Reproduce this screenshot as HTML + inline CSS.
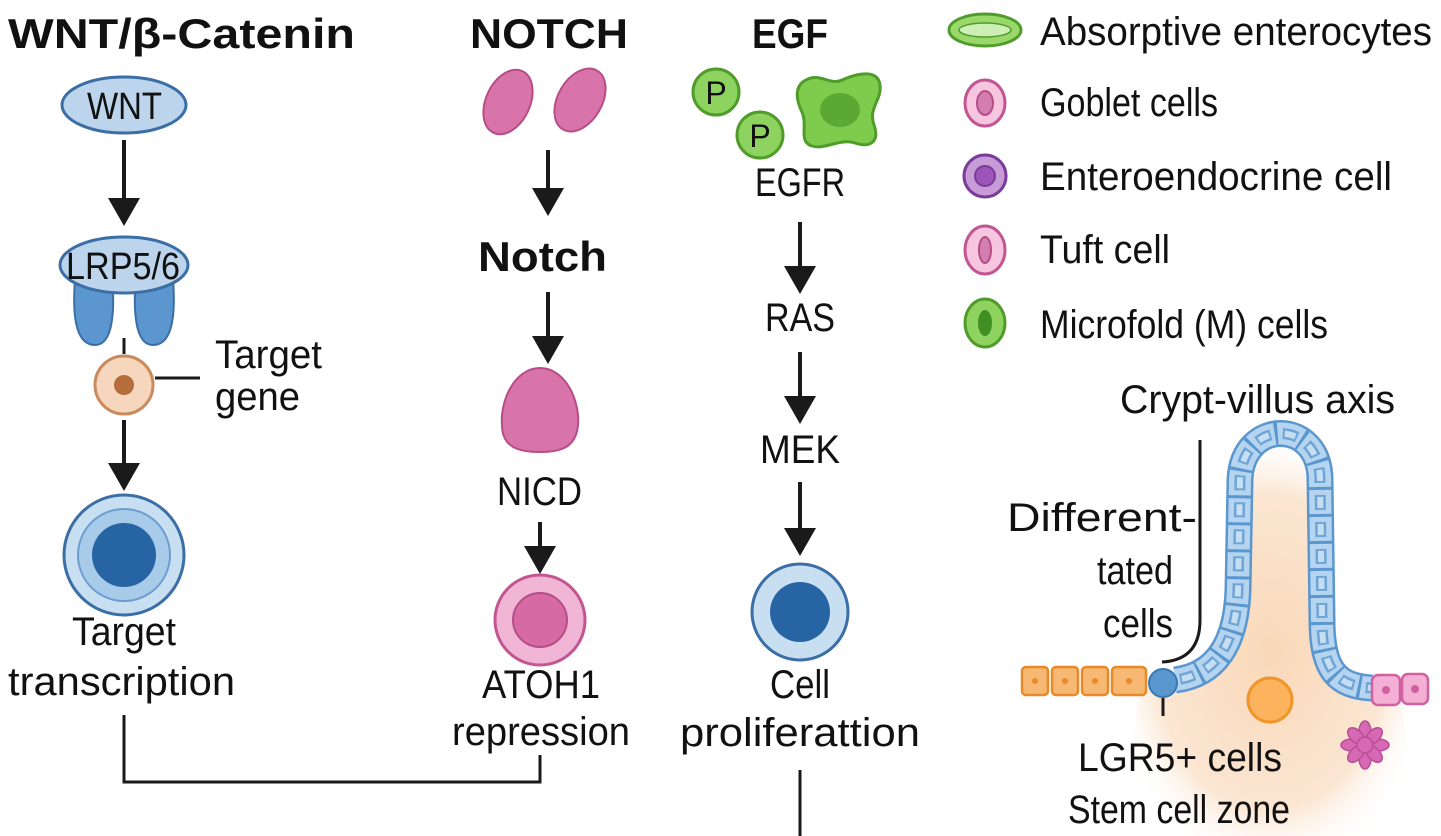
<!DOCTYPE html>
<html><head><meta charset="utf-8"><style>
html,body{margin:0;padding:0;background:#fff;}
svg{display:block;}
text{font-family:"Liberation Sans Narrow","Liberation Sans",sans-serif;fill:#111;}
.b{font-weight:bold;}
</style></head><body>
<svg width="1441" height="836" viewBox="0 0 1441 836" xmlns="http://www.w3.org/2000/svg">
<defs>
<radialGradient id="peach" cx="0.5" cy="0.55" r="0.55"><stop offset="0" stop-color="#f9d8b8"/><stop offset="0.7" stop-color="#fbe6d2"/><stop offset="1" stop-color="#fff" stop-opacity="0"/></radialGradient>
</defs>
<g stroke="#1a1a1a" stroke-width="4" fill="none">
<path d="M124,140 V200"/><path d="M124,420 V465"/>
<path d="M548,150 V190"/><path d="M548,292 V338"/><path d="M540,522 V548"/>
<path d="M800,222 V268"/><path d="M800,352 V398"/><path d="M800,482 V530"/>
</g>
<g fill="#1a1a1a">
<path d="M108,198 L140,198 L124,226 z"/><path d="M108,463 L140,463 L124,491 z"/>
<path d="M532,188 L564,188 L548,216 z"/><path d="M532,336 L564,336 L548,364 z"/><path d="M524,546 L556,546 L540,574 z"/>
<path d="M784,266 L816,266 L800,294 z"/><path d="M784,396 L816,396 L800,424 z"/><path d="M784,528 L816,528 L800,556 z"/>
</g>
<g font-size="42" lengthAdjust="spacingAndGlyphs">
<text x="8" y="48" class="b" textLength="347" lengthAdjust="spacingAndGlyphs">WNT/β-Catenin</text>
<text x="470" y="48" class="b" textLength="158" lengthAdjust="spacingAndGlyphs">NOTCH</text>
<text x="752" y="48" class="b" textLength="76" lengthAdjust="spacingAndGlyphs">EGF</text>
</g>
<!-- WNT -->
<ellipse cx="124" cy="105" rx="62" ry="28" fill="#bcd5ec" stroke="#3a6ea5" stroke-width="3"/>
<text x="87" y="119" font-size="38" textLength="75" lengthAdjust="spacingAndGlyphs">WNT</text>
<path d="M75,280 Q70,345 95,345 Q115,345 113,290 z" fill="#5c96cf" stroke="#3a6ea5" stroke-width="2"/>
<path d="M173,280 Q178,345 153,345 Q133,345 135,290 z" fill="#5c96cf" stroke="#3a6ea5" stroke-width="2"/>
<ellipse cx="124" cy="265" rx="64" ry="28" fill="#bcd5ec" stroke="#3a6ea5" stroke-width="3"/>
<text x="66" y="279" font-size="38" textLength="114" lengthAdjust="spacingAndGlyphs">LRP5/6</text>
<path d="M124,338 V354 M155,378 H200" stroke="#1a1a1a" stroke-width="3"/>
<circle cx="124" cy="385" r="29" fill="#f6d6bd" stroke="#c98a5e" stroke-width="3"/>
<circle cx="124" cy="385" r="10" fill="#b56d3b"/>
<text x="215" y="368" font-size="40" textLength="107" lengthAdjust="spacingAndGlyphs">Target</text>
<text x="215" y="410" font-size="40" textLength="85" lengthAdjust="spacingAndGlyphs">gene</text>
<circle cx="124" cy="555" r="60" fill="#c8def1" stroke="#3a6ea5" stroke-width="3"/>
<circle cx="124" cy="555" r="46" fill="#a9cbea" stroke="#6b9dd0" stroke-width="2"/>
<circle cx="124" cy="555" r="32" fill="#2764a3"/>
<text x="72" y="645" font-size="40" textLength="104" lengthAdjust="spacingAndGlyphs">Target</text>
<text x="8" y="695" font-size="40" textLength="227" lengthAdjust="spacingAndGlyphs">transcription</text>
<path d="M124,715 V782 H540 V755" stroke="#1a1a1a" stroke-width="3" fill="none"/>
<!-- NOTCH -->
<ellipse cx="508" cy="102" rx="22" ry="34" transform="rotate(25 508 102)" fill="#d874a9" stroke="#b84d86" stroke-width="2"/>
<ellipse cx="580" cy="100" rx="22" ry="34" transform="rotate(30 580 100)" fill="#d874a9" stroke="#b84d86" stroke-width="2"/>
<text x="478" y="271" font-size="42" class="b" textLength="129" lengthAdjust="spacingAndGlyphs">Notch</text>
<path d="M540,368 C565,368 580,400 578,425 C576,448 560,452 540,452 C520,452 502,448 502,425 C500,400 515,368 540,368 z" fill="#d874a9" stroke="#b84d86" stroke-width="2"/>
<text x="497" y="505" font-size="40" textLength="85" lengthAdjust="spacingAndGlyphs">NICD</text>
<circle cx="540" cy="620" r="45" fill="#f1b6d6" stroke="#c25592" stroke-width="3"/>
<circle cx="540" cy="620" r="27" fill="#d56aa5" stroke="#b84d86" stroke-width="2"/>
<text x="482" y="698" font-size="40" textLength="118" lengthAdjust="spacingAndGlyphs">ATOH1</text>
<text x="452" y="745" font-size="40" textLength="178" lengthAdjust="spacingAndGlyphs">repression</text>
<!-- EGF -->
<circle cx="716" cy="92" r="23" fill="#8ed35f" stroke="#4f9c2b" stroke-width="3"/>
<text x="716" y="104" font-size="32" text-anchor="middle">P</text>
<circle cx="760" cy="135" r="23" fill="#8ed35f" stroke="#4f9c2b" stroke-width="3"/>
<text x="760" y="147" font-size="32" text-anchor="middle">P</text>
<path d="M806,80 C820,72 830,86 842,80 C860,72 878,70 880,85 C882,100 868,108 874,125 C880,142 870,148 855,143 C840,138 825,150 812,146 C798,142 808,125 802,112 C796,100 794,86 806,80 z" fill="#7fcb4d" stroke="#4f9c2b" stroke-width="3"/>
<ellipse cx="840" cy="110" rx="20" ry="17" fill="#4f9c2b" opacity="0.75"/>
<text x="755" y="196" font-size="40" textLength="90" lengthAdjust="spacingAndGlyphs">EGFR</text>
<text x="765" y="331" font-size="40" textLength="70" lengthAdjust="spacingAndGlyphs">RAS</text>
<text x="760" y="463" font-size="40" textLength="80" lengthAdjust="spacingAndGlyphs">MEK</text>
<circle cx="800" cy="612" r="48" fill="#c8def1" stroke="#3a6ea5" stroke-width="3"/>
<circle cx="800" cy="612" r="30" fill="#2764a3"/>
<text x="770" y="698" font-size="40" textLength="60" lengthAdjust="spacingAndGlyphs">Cell</text>
<text x="680" y="746" font-size="40" textLength="240" lengthAdjust="spacingAndGlyphs">proliferattion</text>
<path d="M800,770 V836" stroke="#1a1a1a" stroke-width="3"/>
<!-- Legend -->
<ellipse cx="985" cy="30" rx="36" ry="16" fill="#9ad86c" stroke="#4f9c2b" stroke-width="3"/>
<ellipse cx="985" cy="30" rx="26" ry="7" fill="#cdeeb5" stroke="#4f9c2b" stroke-width="1.5"/>
<text x="1040" y="45" font-size="40" textLength="392" lengthAdjust="spacingAndGlyphs">Absorptive enterocytes</text>
<ellipse cx="985" cy="103" rx="20" ry="23" fill="#f6c5e0" stroke="#c25592" stroke-width="3"/>
<ellipse cx="985" cy="103" rx="8" ry="12" fill="#d27fb0" stroke="#b84d86" stroke-width="2"/>
<text x="1040" y="116" font-size="40" textLength="178" lengthAdjust="spacingAndGlyphs">Goblet cells</text>
<ellipse cx="985" cy="176" rx="21" ry="21" fill="#c79bd6" stroke="#7b3b9a" stroke-width="3"/>
<circle cx="985" cy="176" r="10" fill="#9b55b8" stroke="#7b3b9a" stroke-width="2"/>
<text x="1040" y="190" font-size="40" textLength="352" lengthAdjust="spacingAndGlyphs">Enteroendocrine cell</text>
<ellipse cx="985" cy="250" rx="20" ry="24" fill="#f6c5e0" stroke="#c25592" stroke-width="3"/>
<ellipse cx="985" cy="250" rx="6" ry="13" fill="#d27fb0" stroke="#b84d86" stroke-width="2"/>
<text x="1040" y="263" font-size="40" textLength="130" lengthAdjust="spacingAndGlyphs">Tuft cell</text>
<ellipse cx="985" cy="323" rx="20" ry="24" fill="#8ed35f" stroke="#4f9c2b" stroke-width="3"/>
<ellipse cx="985" cy="323" rx="7" ry="13" fill="#3f8f22"/>
<text x="1040" y="338" font-size="40" textLength="288" lengthAdjust="spacingAndGlyphs">Microfold (M) cells</text>
<!-- Villus -->
<path d="M1140,690 C1200,680 1236,650 1238,590 L1240,480 C1242,410 1320,410 1320,480 L1322,620 C1322,680 1350,690 1400,692 L1420,836 L1120,836 z" fill="url(#peach)"/>
<text x="1120" y="413" font-size="40" textLength="275" lengthAdjust="spacingAndGlyphs">Crypt-villus axis</text>
<path d="M1200,440 V620 Q1200,660 1162,662" stroke="#1a1a1a" stroke-width="3" fill="none"/>
<text x="1007" y="531" font-size="40" textLength="190" lengthAdjust="spacingAndGlyphs">Different-</text>
<text x="1097" y="584" font-size="40" textLength="76" lengthAdjust="spacingAndGlyphs">tated</text>
<text x="1103" y="637" font-size="40" textLength="70" lengthAdjust="spacingAndGlyphs">cells</text>
<g fill="#f7b873" stroke="#e88a2a" stroke-width="2.5">
<rect x="1022" y="667" width="26" height="28" rx="4"/><rect x="1052" y="667" width="26" height="28" rx="4"/>
<rect x="1082" y="667" width="26" height="28" rx="4"/><rect x="1112" y="667" width="34" height="28" rx="4"/>
</g>
<g fill="#e88a2a"><circle cx="1035" cy="681" r="3"/><circle cx="1065" cy="681" r="3"/><circle cx="1095" cy="681" r="3"/><circle cx="1129" cy="681" r="3"/></g>
<g fill="none">
<path id="vp" d="M1175,680 C1215,675 1236,645 1238,590 L1240,480 C1242,418 1320,418 1320,480 L1322,620 C1322,672 1338,686 1372,688" stroke="#5b97cf" stroke-width="27"/>
<path d="M1175,680 C1215,675 1236,645 1238,590 L1240,480 C1242,418 1320,418 1320,480 L1322,620 C1322,672 1338,686 1372,688" stroke="#b5d4ef" stroke-width="22" stroke-dasharray="24 3"/>
<path d="M1175,680 C1215,675 1236,645 1238,590 L1240,480 C1242,418 1320,418 1320,480 L1322,620 C1322,672 1338,686 1372,688" stroke="#6ea5d6" stroke-width="11" stroke-dasharray="15 12" stroke-dashoffset="-5"/>
<path d="M1175,680 C1215,675 1236,645 1238,590 L1240,480 C1242,418 1320,418 1320,480 L1322,620 C1322,672 1338,686 1372,688" stroke="#c6def2" stroke-width="6" stroke-dasharray="11 16" stroke-dashoffset="-7"/>
</g>
<circle cx="1163" cy="683" r="14" fill="#5b97cf" stroke="#3a78b5" stroke-width="2"/>
<path d="M1163,698 V716" stroke="#1a1a1a" stroke-width="3"/>
<g fill="#f3b0d4" stroke="#d060a0" stroke-width="2.5">
<rect x="1372" y="675" width="28" height="30" rx="6"/><rect x="1402" y="674" width="26" height="30" rx="6"/>
</g>
<g fill="#d060a0"><circle cx="1386" cy="690" r="4"/><circle cx="1415" cy="689" r="4"/></g>
<circle cx="1270" cy="700" r="22" fill="#fbb35e" stroke="#f0952a" stroke-width="3"/>
<g fill="#d768b4" stroke="#b84d96" stroke-width="1.5">
<ellipse cx="1365" cy="732" rx="6" ry="11"/><ellipse cx="1365" cy="758" rx="6" ry="11"/>
<ellipse cx="1352" cy="745" rx="11" ry="6"/><ellipse cx="1378" cy="745" rx="11" ry="6"/>
<ellipse cx="1356" cy="736" rx="6" ry="10" transform="rotate(-45 1356 736)"/><ellipse cx="1374" cy="736" rx="6" ry="10" transform="rotate(45 1374 736)"/>
<ellipse cx="1356" cy="754" rx="6" ry="10" transform="rotate(45 1356 754)"/><ellipse cx="1374" cy="754" rx="6" ry="10" transform="rotate(-45 1374 754)"/>
<circle cx="1365" cy="745" r="8"/>
</g>
<text x="1078" y="771" font-size="40" textLength="204" lengthAdjust="spacingAndGlyphs">LGR5+ cells</text>
<text x="1068" y="823" font-size="40" textLength="222" lengthAdjust="spacingAndGlyphs">Stem cell zone</text>
</svg>
</body></html>
